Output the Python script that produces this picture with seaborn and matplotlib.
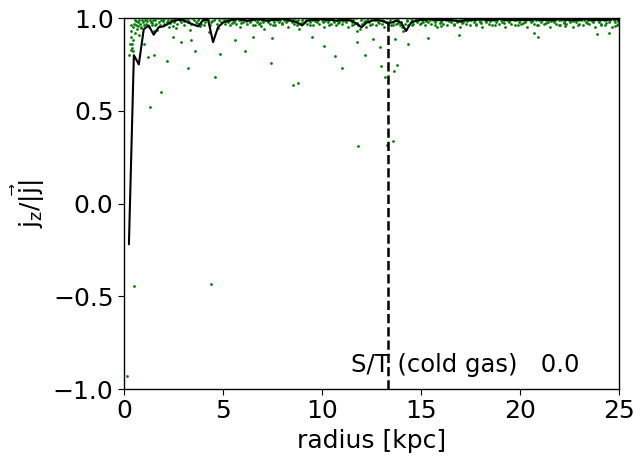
import matplotlib
matplotlib.use("Agg")
import matplotlib.pyplot as plt
import seaborn as sns
import pandas as pd

# median profile (radius bins [kpc] and median j_z/|j|)
radius_bins = [0.25, 0.5, 0.75, 1.0, 1.25, 1.5, 1.75, 2.0, 2.25, 2.5,
               2.75, 3.0, 3.25, 3.5, 3.75, 4.0, 4.25, 4.5, 4.75, 5.0,
               5.25, 5.5, 5.75, 6.0, 6.25, 6.5, 6.75, 7.0, 7.25, 7.5,
               7.75, 8.0, 8.25, 8.5, 8.75, 9.0, 9.25, 9.5, 9.75, 10.0,
               10.25, 10.5, 10.75, 11.0, 11.25, 11.5, 11.75, 12.0, 12.25, 12.5,
               12.75, 13.0, 13.25, 13.5, 13.75, 14.0, 14.25, 14.5, 14.75, 15.0,
               15.25, 15.5, 15.75, 16.0, 16.25, 16.5, 16.75, 17.0, 17.25, 17.5,
               17.75, 18.0, 18.25, 18.5, 18.75, 19.0, 19.25, 19.5, 19.75, 20.0,
               20.25, 20.5, 20.75, 21.0, 21.25, 21.5, 21.75, 22.0, 22.25, 22.5,
               22.75, 23.0, 23.25, 23.5, 23.75, 24.0, 24.25, 24.5, 24.75, 25.0]
median_jz = [-0.22, 0.80, 0.75, 0.94, 0.96, 0.91, 0.95, 0.955, 0.97, 0.985,
             0.99, 0.99, 0.975, 0.965, 0.955, 0.99, 0.99, 0.87, 0.95, 0.975,
             0.985, 0.99, 0.995, 0.99, 0.985, 0.99, 0.995, 0.99, 0.985, 0.99,
             0.99, 0.995, 0.99, 0.985, 0.975, 0.96, 0.985, 0.99, 0.99, 0.995,
             0.99, 0.99, 0.985, 0.99, 0.99, 0.985, 0.97, 0.95, 0.975, 0.985,
             0.99, 0.985, 0.975, 0.975, 0.985, 0.975, 0.93, 0.975, 0.985, 0.99,
             0.99, 0.995, 0.99, 0.99, 0.99, 0.99, 0.985, 0.98, 0.99, 0.99,
             0.99, 0.995, 0.99, 0.99, 0.99, 0.995, 0.99, 0.99, 0.99, 0.99,
             0.99, 0.99, 0.995, 0.99, 0.99, 0.99, 0.99, 0.995, 0.99, 0.99,
             0.99, 0.99, 0.995, 0.99, 0.99, 0.99, 0.99, 0.99, 0.995, 0.99]

# individual cold gas cells: outliers below the disc band
outlier_points = [
    (0.17, -0.93), (0.49, -0.443), (4.38, -0.434), (11.8, 0.31), (13.3, 0.315),
    (13.57, 0.335), (1.31, 0.52), (1.89, 0.60), (4.6, 0.68), (3.25, 0.73),
    (2.16, 0.77), (1.23, 0.79), (1.53, 0.80), (3.59, 0.82), (4.85, 0.805),
    (6.1, 0.82), (7.42, 0.755), (8.55, 0.64), (8.8, 0.65), (10.66, 0.795),
    (11.0, 0.73), (12.2, 0.80), (12.96, 0.74), (13.18, 0.68), (13.64, 0.716),
    (13.77, 0.745), (10.1, 0.85), (2.9, 0.87), (3.4, 0.88), (5.6, 0.88),
    (6.5, 0.90), (7.5, 0.89), (11.75, 0.87), (12.6, 0.885), (14.36, 0.86),
    (0.27, 0.80), (0.33, 0.83), (0.4, 0.86), (0.45, 0.82), (12.93, 0.845),
    (13.7, 0.885), (15.37, 0.89), (16.94, 0.91), (20.7, 0.917), (20.9, 0.90),
    (23.87, 0.914), (24.5, 0.917), (1.0, 0.86), (2.5, 0.9), (9.5, 0.9),
]

# individual cold gas cells: the dense disc band near j_z/|j| ~ 1
band_points = [
    (0.31, 0.86), (0.34, 0.90), (0.38, 0.93), (0.42, 0.84), (0.45, 0.95), (0.47, 0.88), (0.52, 0.97), (0.55, 0.92),
    (0.58, 0.99), (0.61, 0.96), (0.66, 0.94), (0.70, 0.98), (0.74, 0.91), (0.78, 0.99), (0.83, 0.97), (0.86, 0.95),
    (0.91, 0.99), (0.95, 0.98), (1.02, 0.96), (1.07, 0.99), (1.12, 0.97), (1.18, 1.00), (1.24, 0.95), (1.29, 0.99),
    (1.35, 0.98), (1.41, 0.96), (1.47, 0.99), (1.52, 0.93), (1.58, 0.99), (1.63, 0.97), (1.70, 1.00), (1.76, 0.98),
    (1.83, 0.96), (1.89, 0.99), (1.95, 0.99), (2.02, 0.97), (2.08, 1.00), (2.15, 0.98), (2.22, 0.99), (2.28, 0.95),
    (2.36, 0.99), (2.43, 1.00), (2.51, 0.98), (2.58, 0.99), (2.66, 0.97), (2.73, 1.00), (2.81, 0.99), (2.88, 0.98),
    (2.96, 0.99), (3.05, 0.96), (3.12, 1.00), (3.21, 0.99), (3.30, 0.98), (3.38, 0.97), (3.46, 1.00), (3.55, 0.99),
    (3.63, 0.98), (3.72, 0.99), (3.81, 1.00), (3.90, 0.97), (3.98, 0.99), (4.07, 0.98), (4.16, 1.00), (4.25, 0.99),
    (4.34, 0.96), (4.42, 0.98), (4.53, 0.99), (4.61, 1.00), (4.70, 0.97), (4.79, 0.99), (4.88, 0.98), (4.96, 1.00),
    (0.36, 0.96), (0.63, 0.985), (0.88, 0.945), (1.15, 0.985), (1.44, 0.975), (1.67, 0.935), (1.98, 0.985),
    (2.31, 0.975), (2.62, 0.945), (3.02, 0.985), (3.35, 0.935), (3.68, 0.975), (4.02, 0.965), (4.46, 0.985),
    (4.74, 0.945), (0.72, 0.955), (1.55, 0.965), (2.47, 0.955), (3.85, 0.955), (4.29, 0.925),
    (5.04, 0.99), (5.11, 0.97), (5.17, 1.00), (5.23, 0.98), (5.30, 0.99), (5.36, 0.96), (5.41, 1.00), (5.49, 0.99),
    (5.55, 0.98), (5.62, 0.99), (5.68, 0.97), (5.74, 1.00), (5.81, 0.99), (5.87, 0.95), (5.93, 0.99), (6.00, 0.98),
    (6.06, 1.00), (6.13, 0.99), (6.19, 0.97), (6.25, 0.99), (6.32, 1.00), (6.38, 0.98), (6.44, 0.99), (6.51, 0.96),
    (6.57, 1.00), (6.63, 0.99), (6.70, 0.98), (6.76, 0.99), (6.83, 0.97), (6.89, 1.00), (6.95, 0.99), (7.02, 0.98),
    (7.08, 0.94), (7.14, 0.99), (7.21, 1.00), (7.27, 0.98), (7.33, 0.99), (7.40, 0.97), (7.46, 1.00), (7.52, 0.99),
    (7.59, 0.98), (7.65, 0.96), (7.71, 0.99), (7.78, 1.00), (7.84, 0.98), (7.90, 0.99), (7.97, 0.97), (8.03, 1.00),
    (8.09, 0.99), (8.16, 0.98), (8.22, 0.99), (8.28, 0.95), (8.35, 1.00), (8.41, 0.99), (8.47, 0.98), (8.54, 0.99),
    (8.60, 0.97), (8.66, 1.00), (8.73, 0.96), (8.79, 0.99), (8.85, 0.94), (8.92, 0.97), (8.98, 0.99), (9.04, 1.00),
    (9.11, 0.98), (9.17, 0.99), (9.23, 0.97), (9.30, 1.00), (9.36, 0.99), (9.42, 0.98), (9.49, 0.99), (9.55, 0.96),
    (9.61, 1.00), (9.68, 0.99), (9.74, 0.98), (9.80, 0.99), (9.87, 0.97), (9.93, 1.00),
    (10.00, 0.99), (10.06, 0.98), (10.12, 0.95), (10.19, 0.99), (10.25, 1.00), (10.31, 0.98), (10.38, 0.99), (10.44, 0.97),
    (10.50, 1.00), (10.57, 0.99), (10.63, 0.98), (10.69, 0.96), (10.76, 0.99), (10.82, 1.00), (10.88, 0.98), (10.95, 0.99),
    (11.01, 0.97), (11.07, 1.00), (11.14, 0.99), (11.20, 0.98), (11.26, 0.99), (11.33, 0.95), (11.39, 1.00), (11.45, 0.99),
    (11.52, 0.98), (11.58, 0.99), (11.64, 0.97), (11.71, 1.00), (11.77, 0.93), (11.83, 0.96), (11.90, 0.94), (11.96, 0.99),
    (12.02, 0.97), (12.09, 1.00), (12.15, 0.98), (12.21, 0.95), (12.28, 0.99), (12.34, 1.00), (12.40, 0.98), (12.47, 0.99),
    (12.53, 0.97), (12.59, 1.00), (12.66, 0.99), (12.72, 0.96), (12.78, 0.99), (12.85, 0.98), (12.91, 1.00), (12.97, 0.99),
    (13.04, 0.97), (13.10, 0.99), (13.16, 0.95), (13.23, 0.98), (13.29, 1.00), (13.35, 0.97), (13.42, 0.99), (13.48, 0.96),
    (13.54, 1.00), (13.61, 0.98), (13.67, 0.99), (13.73, 0.97), (13.80, 1.00), (13.86, 0.99), (13.92, 0.96), (13.99, 0.98),
    (14.05, 0.95), (14.11, 0.93), (14.18, 0.97), (14.24, 0.94), (14.30, 0.99), (14.37, 0.96), (14.43, 1.00), (14.49, 0.98),
    (14.56, 0.99), (14.62, 0.97), (14.68, 1.00), (14.75, 0.99), (14.81, 0.98), (14.87, 0.99), (14.94, 0.97),
    (15.00, 1.00), (15.06, 0.99), (15.13, 0.98), (15.19, 0.96), (15.25, 0.99), (15.32, 1.00), (15.38, 0.98), (15.44, 0.99),
    (15.51, 0.97), (15.57, 1.00), (15.63, 0.99), (15.70, 0.98), (15.76, 0.99), (15.82, 0.95), (15.89, 1.00), (15.95, 0.99),
    (16.01, 0.98), (16.08, 0.99), (16.14, 0.97), (16.20, 1.00), (16.27, 0.99), (16.33, 0.96), (16.39, 0.99), (16.46, 1.00),
    (16.52, 0.98), (16.58, 0.99), (16.65, 0.97), (16.71, 1.00), (16.77, 0.99), (16.84, 0.98), (16.90, 0.99), (16.96, 0.95),
    (17.03, 1.00), (17.09, 0.99), (17.15, 0.98), (17.22, 0.99), (17.28, 0.97), (17.34, 1.00), (17.41, 0.99), (17.47, 0.96),
    (17.53, 0.99), (17.60, 1.00), (17.66, 0.98), (17.72, 0.99), (17.79, 0.97), (17.85, 1.00), (17.91, 0.99), (17.98, 0.98),
    (18.04, 0.99), (18.10, 0.95), (18.17, 1.00), (18.23, 0.99), (18.29, 0.98), (18.36, 0.99), (18.42, 0.97), (18.48, 1.00),
    (18.55, 0.99), (18.61, 0.96), (18.67, 0.99), (18.74, 1.00), (18.80, 0.98), (18.86, 0.99), (18.93, 0.97), (18.99, 1.00),
    (19.05, 0.99), (19.12, 0.98), (19.18, 0.99), (19.24, 0.95), (19.31, 1.00), (19.37, 0.99), (19.43, 0.98), (19.50, 0.99),
    (19.56, 0.97), (19.62, 1.00), (19.69, 0.99), (19.75, 0.96), (19.81, 0.99), (19.88, 1.00), (19.94, 0.98),
    (20.00, 0.99), (20.07, 0.97), (20.13, 1.00), (20.19, 0.99), (20.26, 0.98), (20.32, 0.99), (20.38, 0.95), (20.45, 1.00),
    (20.51, 0.99), (20.57, 0.98), (20.64, 0.99), (20.70, 0.97), (20.76, 1.00), (20.83, 0.99), (20.89, 0.96), (20.95, 0.99),
    (21.02, 1.00), (21.08, 0.98), (21.14, 0.99), (21.21, 0.97), (21.27, 1.00), (21.33, 0.99), (21.40, 0.98), (21.46, 0.99),
    (21.52, 0.95), (21.59, 1.00), (21.65, 0.99), (21.71, 0.98), (21.78, 0.99), (21.84, 0.97), (21.90, 1.00), (21.97, 0.99),
    (22.03, 0.96), (22.09, 0.99), (22.16, 1.00), (22.22, 0.98), (22.28, 0.99), (22.35, 0.97), (22.41, 1.00), (22.47, 0.99),
    (22.54, 0.98), (22.60, 0.99), (22.66, 0.95), (22.73, 1.00), (22.79, 0.99), (22.85, 0.98), (22.92, 0.99), (22.98, 0.97),
    (23.04, 1.00), (23.11, 0.99), (23.17, 0.96), (23.23, 0.99), (23.30, 1.00), (23.36, 0.98), (23.42, 0.99), (23.49, 0.97),
    (23.55, 1.00), (23.61, 0.99), (23.68, 0.98), (23.74, 0.99), (23.80, 0.95), (23.87, 1.00), (23.93, 0.99), (23.99, 0.98),
    (24.06, 0.99), (24.12, 0.97), (24.18, 1.00), (24.25, 0.99), (24.31, 0.96), (24.37, 0.99), (24.44, 1.00), (24.50, 0.98),
    (24.56, 0.99), (24.63, 0.95), (24.69, 1.00), (24.75, 0.99), (24.82, 0.98), (24.88, 0.96), (24.94, 0.99), (24.98, 0.97),
    (5.2, 0.985), (5.9, 0.975), (6.6, 0.965), (7.3, 0.985), (8.0, 0.975), (8.7, 0.985), (9.4, 0.965), (10.1, 0.985),
    (10.8, 0.975), (11.5, 0.965), (12.2, 0.985), (12.9, 0.975), (13.6, 0.965), (14.3, 0.985), (15.0, 0.975), (15.7, 0.965),
    (16.4, 0.985), (17.1, 0.975), (17.8, 0.965), (18.5, 0.985), (19.2, 0.975), (19.9, 0.965), (20.6, 0.985), (21.3, 0.975),
    (22.0, 0.965), (22.7, 0.985), (23.4, 0.975), (24.1, 0.965), (24.8, 0.955), (22.3, 0.955), (16.0, 0.955), (6.9, 0.955),
    (5.45, 0.975), (6.15, 0.985), (6.85, 0.975), (7.55, 0.965), (8.25, 0.985), (8.95, 0.975), (9.65, 0.985), (10.35, 0.965),
    (11.05, 0.985), (11.75, 0.975), (12.45, 0.965), (13.15, 0.985), (13.85, 0.975), (14.55, 0.965), (15.25, 0.985),
    (15.95, 0.975), (16.65, 0.965), (17.35, 0.985), (18.05, 0.975), (18.75, 0.965), (19.45, 0.985), (20.15, 0.975),
    (20.85, 0.965), (21.55, 0.985), (22.25, 0.975), (22.95, 0.965), (23.65, 0.985), (24.35, 0.975), (24.95, 0.985),
]

st_radius = 13.36
st_label = "S/T (cold gas)   0.0"
x_ticks = [0, 5, 10, 15, 20, 25]
y_ticks = [-1.0, -0.5, 0.0, 0.5, 1.0]

sns.set_style("ticks")
plt.rcParams["font.family"] = ["DejaVu Sans"]
plt.rcParams["mathtext.default"] = "regular"
plt.rcParams["text.color"] = "black"
plt.rcParams["axes.labelcolor"] = "black"
plt.rcParams["xtick.color"] = "black"
plt.rcParams["ytick.color"] = "black"

cells = pd.DataFrame(band_points + outlier_points, columns=["radius", "jz"])
profile = pd.DataFrame({"radius": radius_bins, "jz": median_jz})

fig = plt.figure(figsize=(6.44, 4.62), dpi=100)
ax = fig.add_axes([0.1925, 0.158, 0.7685, 0.803])

sns.scatterplot(data=cells, x="radius", y="jz", ax=ax, color="green",
                s=4, linewidth=0, marker="o", zorder=2)
sns.lineplot(data=profile, x="radius", y="jz", ax=ax, color="black",
             linewidth=1.5, estimator=None, sort=True, zorder=3)
ax.axvline(st_radius, color="black", linestyle="--", linewidth=1.8, zorder=4)
ax.text(11.45, -0.91, st_label, fontsize=17.5, color="black",
        va="baseline", ha="left", zorder=5)

ax.set_xlim(0, 25)
ax.set_ylim(-1, 1)
ax.set_xticks(x_ticks)
ax.set_yticks(y_ticks)
ax.tick_params(labelsize=18, direction="out", length=4, colors="black")
ax.set_xlabel("radius [kpc]", fontsize=18, color="black")
ax.set_ylabel(r"$j_z/|\vec{j}|$", fontsize=18, color="black")
for sp in ax.spines.values():
    sp.set_visible(True)
    sp.set_color("black")
    sp.set_linewidth(1.0)

fig.savefig("out.png", dpi=100)
